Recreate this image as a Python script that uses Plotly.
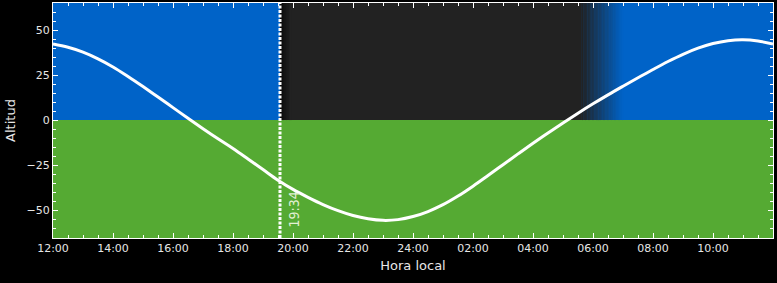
import plotly.graph_objects as go

# ---- data ----
hours = [12.0, 12.5, 13.0, 13.5, 14.0, 14.5, 15.0, 15.5, 16.0, 16.5, 17.0, 17.5,
         18.0, 18.5, 19.0, 19.5, 20.0, 20.5, 21.0, 21.5, 22.0, 22.5, 23.0, 23.5,
         24.0, 24.5, 25.0, 25.5, 26.0, 26.5, 27.0, 27.5, 28.0, 28.5, 29.0, 29.5,
         30.0, 30.5, 31.0, 31.5, 32.0, 32.5, 33.0, 33.5, 34.0, 34.5, 35.0, 35.5, 36.0]
altitude = [42.2, 40.4, 37.7, 34.0, 29.5, 24.2, 18.6, 12.8, 6.9, 1.0, -4.8, -10.4,
            -15.8, -21.6, -27.5, -33.4, -38.5, -42.9, -46.9, -50.3, -53.0, -54.8, -55.7, -55.3,
            -53.6, -50.8, -47.0, -42.2, -36.7, -30.8, -24.8, -18.8, -12.9, -7.2, -1.6, 3.8,
            9.0, 14.0, 18.8, 23.5, 28.1, 32.5, 36.5, 39.9, 42.5, 44.1, 44.6, 43.9, 42.2]
tick_hours = [12, 14, 16, 18, 20, 22, 24, 26, 28, 30, 32, 34]
tick_labels = ["12:00", "14:00", "16:00", "18:00", "20:00", "22:00", "24:00",
               "02:00", "04:00", "06:00", "08:00", "10:00"]
y_ticks = [50, 25, 0, -25, -50]
marker_time = 19 + 34 / 60
marker_label = "19:34"
night_end = 29.63
dawn_end = 31.0

X0, X1 = 12, 36
Y0, Y1 = -65.5, 65

BLUE = (0, 99, 200)
NIGHT = (34, 34, 34)
GREEN = "#55aa33"

def rgb(c):
    return "rgb(%d,%d,%d)" % tuple(int(round(v)) for v in c)

shapes = []
shapes.append(dict(type="rect", xref="x", yref="y", x0=X0, x1=X1, y0=0, y1=Y1,
                   fillcolor=rgb(BLUE), line_width=0, layer="below"))
shapes.append(dict(type="rect", xref="x", yref="y", x0=X0, x1=X1, y0=Y0, y1=0,
                   fillcolor=GREEN, line_width=0, layer="below"))
shapes.append(dict(type="rect", xref="x", yref="y", x0=marker_time, x1=night_end, y0=0, y1=Y1,
                   fillcolor=rgb(NIGHT), line_width=0, layer="below"))
# small darker edge after the marker
n = 8
w = 0.38 / n
for i in range(n):
    t = i / (n - 1)
    c = tuple(10 + (34 - 10) * t for _ in range(3))
    shapes.append(dict(type="rect", xref="x", yref="y", x0=marker_time + i * w,
                       x1=marker_time + (i + 1) * w + 0.01, y0=0, y1=Y1,
                       fillcolor=rgb(c), line_width=0, layer="below"))
# dawn gradient
n = 30
w = (dawn_end - night_end) / n
for i in range(n):
    t = (i + 0.5) / n
    c = tuple(NIGHT[k] + (BLUE[k] - NIGHT[k]) * t for k in range(3))
    shapes.append(dict(type="rect", xref="x", yref="y", x0=night_end + i * w,
                       x1=night_end + (i + 1) * w + 0.01, y0=0, y1=Y1,
                       fillcolor=rgb(c), line_width=0, layer="below"))
shapes.append(dict(type="line", xref="x", yref="y", x0=marker_time, x1=marker_time, y0=Y0, y1=Y1,
                   line=dict(color="white", width=3, dash="3px,1.5px"), layer="below"))

fig = go.Figure()
fig.add_trace(go.Scatter(x=hours, y=altitude, mode="lines",
                         line=dict(color="white", width=3, shape="spline", smoothing=1.0),
                         hoverinfo="skip", showlegend=False))

fig.add_annotation(x=marker_time, y=-49.7, xref="x", yref="y", text=marker_label,
                   textangle=-90, showarrow=False, xshift=14,
                   font=dict(family="Liberation Sans Narrow, DejaVu Sans Condensed, DejaVu Sans",
                             size=14, color="#e2f0d4"))

font = dict(family="DejaVu Sans", size=11, color="#e6e6e6")
fig.update_layout(
    width=777, height=283,
    margin=dict(l=53, r=4, t=3, b=45),
    paper_bgcolor="black", plot_bgcolor="black",
    shapes=shapes, font=font, showlegend=False,
    xaxis=dict(range=[X0, X1], tickvals=tick_hours, ticktext=tick_labels,
               showgrid=False, zeroline=False, showline=True, linecolor="white", linewidth=1,
               mirror="ticks", ticks="inside", ticklen=5, tickcolor="white",
               minor=dict(dtick=0.5, ticks="inside", ticklen=3, tickcolor="white", showgrid=False),
               title=dict(text="Hora local", standoff=6), tickfont=font),
    yaxis=dict(range=[Y0, Y1], tickvals=y_ticks,
               showgrid=False, zeroline=False, showline=True, linecolor="white", linewidth=1,
               mirror="ticks", ticks="inside", ticklen=5, tickcolor="white",
               minor=dict(dtick=5, tick0=0, ticks="inside", ticklen=3, tickcolor="white", showgrid=False),
               title=dict(text="Altitud", standoff=8), tickfont=font),
)

fig.write_html("out.html")
